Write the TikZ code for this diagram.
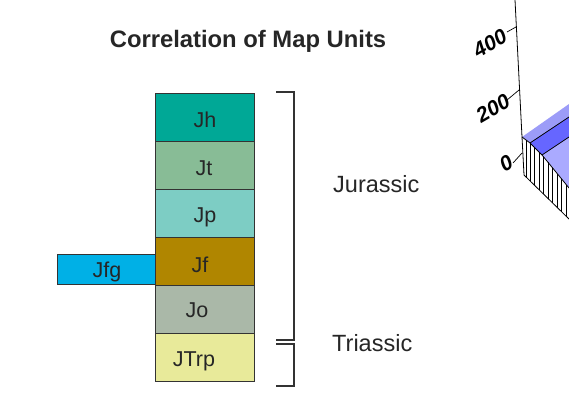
\documentclass[tikz,border=0pt]{standalone}
\usepackage{fontspec}
\setmainfont{Liberation Sans}
\begin{document}
\begin{tikzpicture}[x=1pt,y=-1pt,
  unitbox/.style={draw=black!80, line width=0.8pt},
  unitlbl/.style={anchor=base, font=\fontsize{21.5}{23}\selectfont, text=black!85},
  agelbl/.style={anchor=base west, font=\fontsize{23.5}{26}\selectfont, text=black!85, inner sep=0pt},
  bracketline/.style={draw=black!80, line width=1.3pt},
  ticklbl/.style={font=\fontsize{21}{23}\selectfont\bfseries\itshape, rotate=30, inner sep=0pt}]
\useasboundingbox (0,0) rectangle (569,396);
\definecolor{cJh}{HTML}{00A896}
\definecolor{cJt}{HTML}{88BC96}
\definecolor{cJp}{HTML}{7DCDC4}
\definecolor{cJf}{HTML}{B08600}
\definecolor{cJo}{HTML}{AAB8A8}
\definecolor{cJTrp}{HTML}{E8EA9A}
\definecolor{cJfg}{HTML}{00B0E6}
\definecolor{sA}{HTML}{9C9CF8}
\definecolor{sB}{HTML}{6666FF}
\definecolor{sC}{HTML}{AAAAFF}

% title
\node[anchor=base, inner sep=0pt, font=\fontsize{23.8}{26}\selectfont\bfseries, text=black!85] (title) at (248,48) {Correlation of Map Units};

% unit boxes
\filldraw[unitbox, fill=cJh] (155,93) rectangle (254,141);
\filldraw[unitbox, fill=cJt] (155,141) rectangle (254,189);
\filldraw[unitbox, fill=cJp] (155,189) rectangle (254,237);
\filldraw[unitbox, fill=cJf] (155,237) rectangle (254,285);
\filldraw[unitbox, fill=cJo] (155,285) rectangle (254,333);
\filldraw[unitbox, fill=cJTrp] (155,333) rectangle (254,381);
\filldraw[unitbox, fill=cJfg] (57,254) rectangle (155,284);

\node[unitlbl] (Jh) at (205,127) {Jh};
\node[unitlbl] (Jt) at (204,175) {Jt};
\node[unitlbl] (Jp) at (205,222) {Jp};
\node[unitlbl] (Jf) at (200,272) {Jf};
\node[unitlbl] (Jo) at (197,317) {Jo};
\node[unitlbl] (JTrp) at (194,366) {JTrp};
\node[unitlbl] (Jfg) at (107,277) {Jfg};

% brackets
\draw[bracketline] (276,92) -- (294,92) -- (294,340) -- (276,340);
\draw[bracketline] (276,344) -- (294,344) -- (294,386) -- (276,386);
\node[agelbl] (jur) at (333,192) {Jurassic};
\node[agelbl] (tri) at (332,351) {Triassic};

% 3D plot fragment
\coordinate (A) at (522,137);
\coordinate (B) at (530,143);
\coordinate (C) at (542,155);
\coordinate (D) at (569,188);
\coordinate (E) at (524,175);
\coordinate (F) at (569,219);
\fill[sA] (A) -- (569,104) -- (569,117) -- (B) -- cycle;
\fill[sB] (B) -- (569,117) -- (569,137) -- (C) -- cycle;
\fill[sC] (C) -- (569,137) -- (D) -- cycle;
\fill[white] (A) -- (B) -- (C) -- (D) -- (F) -- (E) -- cycle;
\draw[line width=0.8pt] (B) -- (569,117);
\draw[line width=0.8pt] (C) -- (569,137);
\draw[line width=0.8pt] (A) -- (B) -- (C) -- (D);
\draw[line width=0.8pt] (E) -- (F);
\draw[line width=0.8pt] (A) -- (E);
\foreach \x/\t/\b in {526/140/177, 530/143/181, 534.5/147.5/185.4, 539/152/189.8,
  543.5/156.8/194.3, 548/162.4/198.7, 552.5/167.9/203.1, 557/173.5/207.5,
  561.5/179/211.9, 566/184.5/216.3}
  \draw[line width=0.7pt] (\x,\t) -- (\x,\b);

% axis
\coordinate (axtop) at (515,0);
\draw[line width=0.8pt] (axtop) -- (A);
\draw[line width=0.7pt] (507,32) -- (516,27);
\draw[line width=0.7pt] (507,100) -- (519,90);
\draw[line width=0.7pt] (513,163) -- (522,153);
\node[ticklbl] (t400) at (490,43) {400};
\node[ticklbl] (t200) at (493,108) {200};
\node[ticklbl] (t0) at (506,163) {0};
\end{tikzpicture}
\end{document}
